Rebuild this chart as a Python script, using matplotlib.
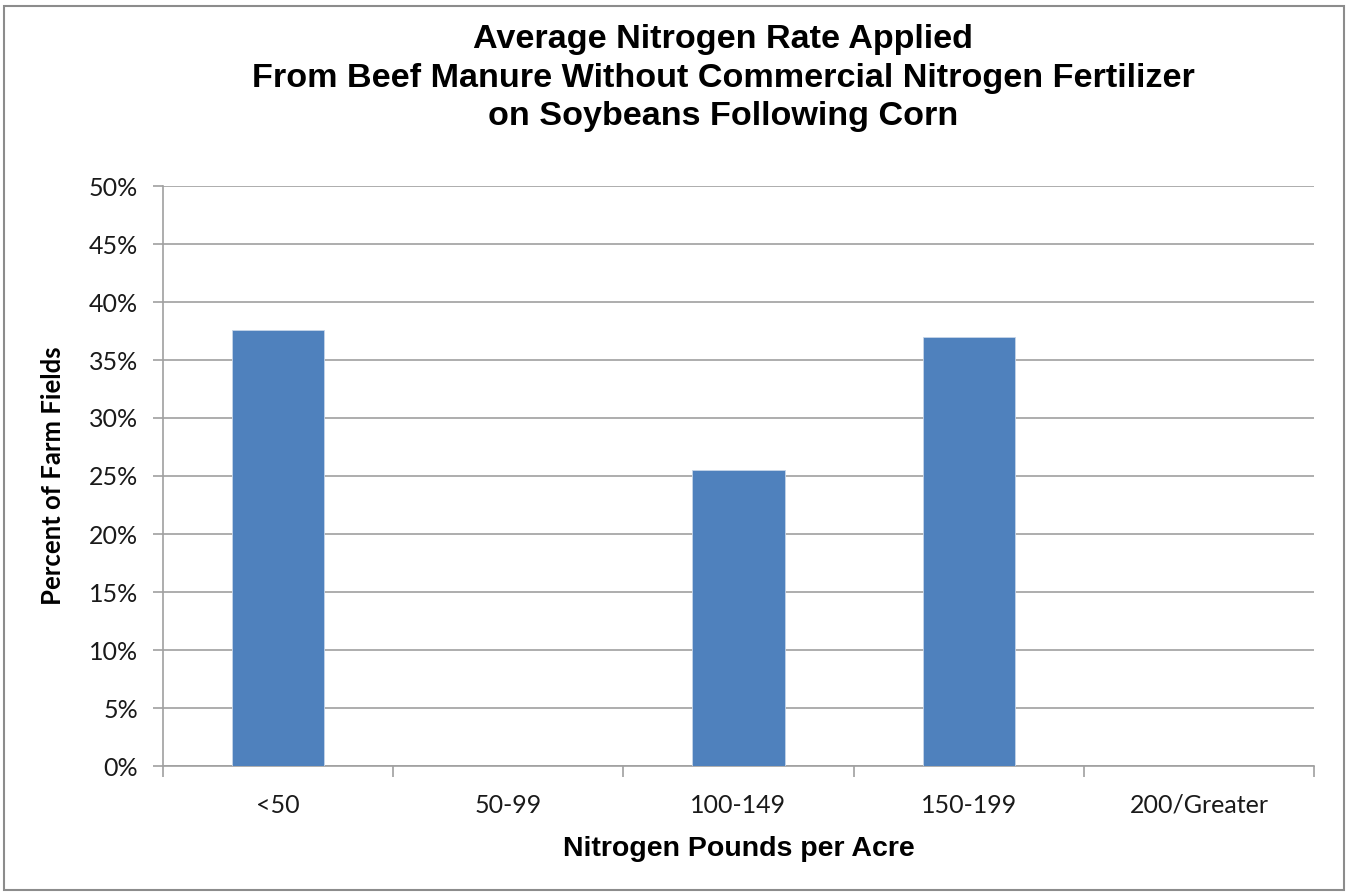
import matplotlib.pyplot as plt
from matplotlib.ticker import FuncFormatter, FixedLocator, NullFormatter
from matplotlib.patches import Rectangle

categories = ['<50', '50-99', '100-149', '150-199', '200/Greater']
percents = [37.6, 0, 25.5, 37.0, 0]

fig = plt.figure(figsize=(13.48, 8.94), dpi=100)
ax = fig.add_axes([163/1348, 1 - 766/894, (1314-163)/1348, (766-186)/894])

# gray frame round the whole chart
fig.patches.append(Rectangle((4/1348, 4/894), 1340/1348, 884/894, transform=fig.transFigure,
                             fill=False, edgecolor='#8c8c8c', linewidth=1.5))

x = list(range(len(categories)))
ax.bar(x, percents, width=0.4, color='#4F81BD', edgecolor='#c6d5e8', linewidth=0.6, zorder=3)

ax.set_xlim(-0.5, len(categories) - 0.5)
ax.set_ylim(0, 50)
ax.set_yticks(range(0, 51, 5))
ax.yaxis.set_major_formatter(FuncFormatter(lambda v, p: f'{int(v)}%'))
ax.grid(axis='y', color='#a0a0a0', linewidth=1.2, zorder=0)

ax.set_xticks(x)
ax.set_xticklabels(categories)
ax.xaxis.set_minor_locator(FixedLocator([i - 0.5 for i in range(len(categories) + 1)]))
ax.xaxis.set_minor_formatter(NullFormatter())
ax.tick_params(axis='x', which='major', length=0, pad=20)
ax.tick_params(axis='x', which='minor', length=8, color='#a0a0a0', width=1.2)
ax.tick_params(axis='y', length=7, color='#a0a0a0', width=1.2, pad=11)

for lab in ax.get_xticklabels() + ax.get_yticklabels():
    lab.set_family(['Lato', 'DejaVu Sans'])
    lab.set_fontsize(18)
    lab.set_color('#1a1a1a')

for s in ['top', 'right']:
    ax.spines[s].set_visible(False)
for s in ['left', 'bottom']:
    ax.spines[s].set_color('#a0a0a0')
    ax.spines[s].set_linewidth(1.2)

ax.set_xlabel('Nitrogen Pounds per Acre', family='Liberation Sans', fontsize=20.5,
              fontweight='bold', labelpad=14)
ax.set_ylabel('Percent of Farm Fields', family='Lato', fontsize=18.5,
              fontweight='bold', labelpad=17)

fig.text(723/1348, 1 - 78/894,
         'Average Nitrogen Rate Applied\nFrom Beef Manure Without Commercial Nitrogen Fertilizer\non Soybeans Following Corn',
         ha='center', va='center', family='Liberation Sans', fontsize=24.6, fontweight='bold',
         linespacing=1.33)

fig.savefig('out.png', dpi=100)
